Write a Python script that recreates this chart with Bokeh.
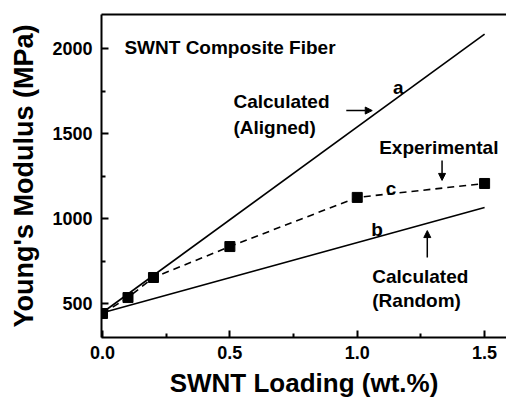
from bokeh.plotting import figure
from bokeh.models import (LinearAxis, FixedTicker, Label, Arrow, NormalHead, Range1d,
                          PrintfTickFormatter)
from bokeh.embed import file_html
from bokeh.resources import INLINE

# data
x_calc = [0.0, 1.5]
y_aligned = [447, 2085]   # line a
y_random = [445, 1065]    # line b
x_exp = [0.0, 0.1, 0.2, 0.5, 1.0, 1.5]
y_exp = [441, 535, 653, 835, 1124, 1206]  # experimental c
x_ticks = [0.0, 0.5, 1.0, 1.5]
y_ticks = [500, 1000, 1500, 2000]

FONT = "Liberation Sans"

p = figure(width=506, height=401, output_backend="svg", toolbar_location=None,
           x_range=Range1d(-0.004, 1.586), y_range=Range1d(300, 2200),
           min_border_left=101, min_border_top=14, min_border_bottom=64, min_border_right=0)
p.xaxis.visible = False
p.yaxis.visible = False
p.grid.visible = False
p.outline_line_color = None
p.background_fill_color = "white"

def style_axis(ax):
    ax.axis_line_width = 2
    ax.axis_line_color = "black"
    ax.major_tick_in = 7
    ax.major_tick_out = 0
    ax.minor_tick_in = 4
    ax.minor_tick_out = 0
    ax.major_tick_line_width = 2
    ax.minor_tick_line_width = 2
    ax.major_tick_line_color = "black"
    ax.minor_tick_line_color = "black"
    ax.major_label_text_font = FONT
    ax.major_label_text_font_style = "bold"
    ax.major_label_text_font_size = "18px"
    ax.major_label_text_color = "black"
    ax.axis_label_text_font = FONT
    ax.axis_label_text_font_style = "bold"
    ax.axis_label_text_color = "black"

xax = LinearAxis()
style_axis(xax)
xax.ticker = FixedTicker(ticks=x_ticks, minor_ticks=[0.25, 0.75, 1.25])
xax.formatter = PrintfTickFormatter(format="%.1f")
xax.axis_label = "SWNT Loading (wt.%)"
xax.axis_label_text_font_size = "26px"
xax.major_label_standoff = 8
xax.axis_label_standoff = 6
p.add_layout(xax, "below")

yax = LinearAxis()
style_axis(yax)
yax.ticker = FixedTicker(ticks=y_ticks, minor_ticks=[750, 1250, 1750])
yax.axis_label = "Young's Modulus (MPa)"
yax.axis_label_text_font_size = "27px"
yax.major_label_standoff = 9
yax.axis_label_standoff = 10
p.add_layout(yax, "left")

top = LinearAxis()
top.ticker = FixedTicker(ticks=[], minor_ticks=[])
top.axis_line_width = 2
top.axis_line_color = "black"
top.major_tick_out = 0
top.minor_tick_out = 0
top.major_tick_in = 0
top.minor_tick_in = 0
top.major_label_text_font_size = "0px"
top.major_label_standoff = 0
p.add_layout(top, "above")

# lines
p.line(x_calc, y_aligned, line_color="black", line_width=1.6)
p.line(x_calc, y_random, line_color="black", line_width=1.6)
p.line(x_exp, y_exp, line_color="black", line_width=1.6, line_dash="7 5")
p.scatter(x_exp, y_exp, marker="square", size=10, fill_color="black", line_color="black")

def lab(x, y, t, align="left", size="19px"):
    p.add_layout(Label(x=x, y=y, text=t, text_font=FONT, text_font_style="bold",
                       text_font_size=size, text_align=align, text_baseline="middle",
                       text_color="black"))

lab(0.086, 2006, "SWNT Composite Fiber")
lab(1.161, 1770, "a", "center")
lab(0.514, 1688, "Calculated")
lab(0.514, 1535, "(Aligned)")
lab(1.086, 1418, "Experimental")
lab(1.133, 1176, "c", "center")
lab(1.078, 935, "b", "center")
lab(1.059, 659, "Calculated")
lab(1.059, 518, "(Random)")

def arrow(x0, y0, x1, y1):
    p.add_layout(Arrow(x_start=x0, y_start=y0, x_end=x1, y_end=y1, line_width=1.5,
                       end=NormalHead(size=7, fill_color="black", line_color="black")))

arrow(0.957, 1635, 1.059, 1635)
arrow(1.333, 1341, 1.333, 1224)
arrow(1.275, 771, 1.275, 929)

open("out.html", "w").write(file_html(p, INLINE))
